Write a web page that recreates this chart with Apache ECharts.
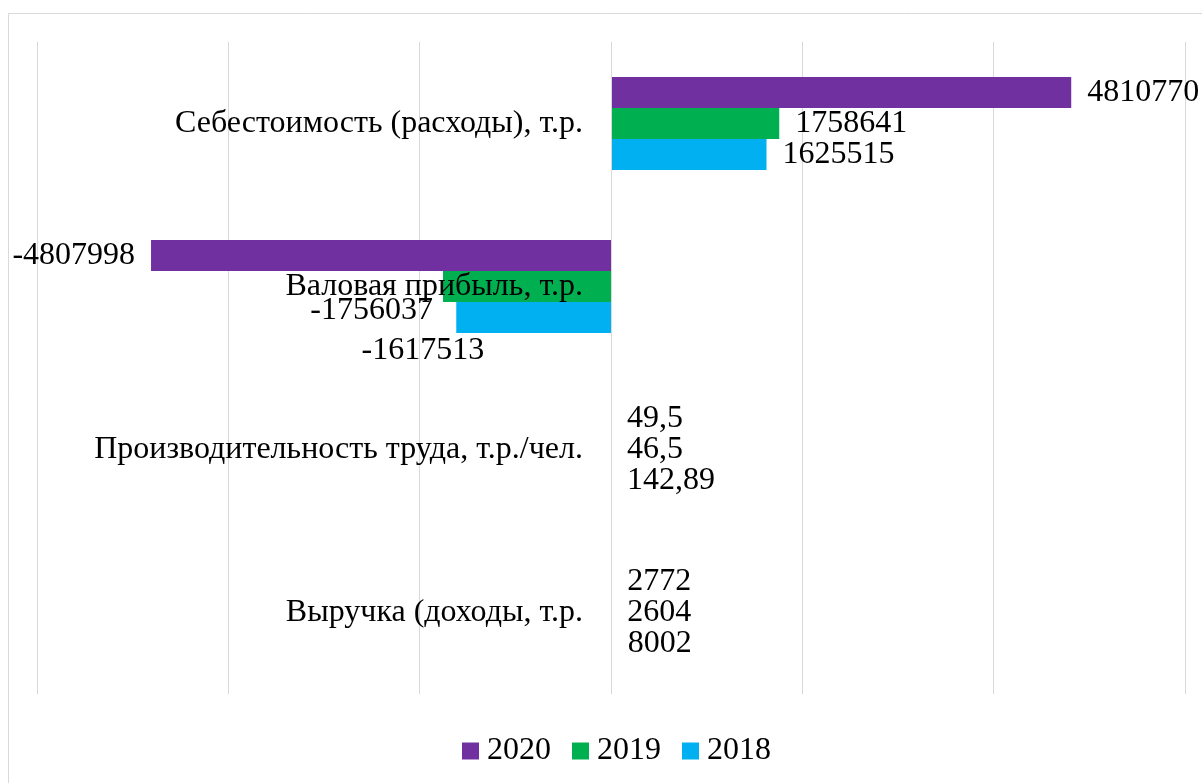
<!DOCTYPE html>
<html>
<head>
<meta charset="utf-8">
<script src="https://cdn.jsdelivr.net/npm/echarts@6/dist/echarts.min.js"></script>
<style>
	html, body { margin: 0; padding: 0; background: #fff; }
	#chart { width: 1202px; height: 783px; }
</style>
</head>
<body>
<div id="chart"></div>
<script>
// categories, bottom to top
var categories = ['Выручка (доходы, т.р.', 'Производительность труда, т.р./чел.', 'Валовая прибыль, т.р.', 'Себестоимость (расходы), т.р.'];
var years = ['2020', '2019', '2018'];
var values2020 = [2772, 49.5, -4807998, 4810770];
var values2019 = [2604, 46.5, -1756037, 1758641];
var values2018 = [8002, 142.89, -1617513, 1625515];
var colors = ['#7030A0', '#00B050', '#00B0F0'];

var FONT = "'Liberation Serif', 'Times New Roman', serif";
var FONT_SIZE = 32;

// labels that were moved by hand in the original (series index -> data index -> offset)
var labelOffsets = {
	1: {2: [6, 24]},
	2: {2: [44, 33]}
};

function fmt(p){
	return String(p.value).replace('.', ',');
}

function buildData(vals, si){
	return vals.map(function(v, i){
		var lbl = {position: v < 0 ? 'left' : 'right'};
		if(labelOffsets[si] && labelOffsets[si][i]){
			lbl.offset = labelOffsets[si][i];
		}
		return {value: v, label: lbl};
	});
}

var chart = echarts.init(document.getElementById('chart'));
var allValues = [values2020, values2019, values2018];
var series = [];
for(var s = 0; s < years.length; s++){
	series.push({
		name: years[s],
		type: 'bar',
		barWidth: 31,
		barGap: '0%',
		itemStyle: {color: colors[s]},
		label: {
			show: true,
			distance: 16,
			fontSize: FONT_SIZE,
			fontFamily: FONT,
			color: '#000',
			formatter: fmt
		},
		data: buildData(allValues[s], s)
	});
}

var option = {
	animation: false,
	graphic: [{
		type: 'rect',
		silent: true,
		shape: {x: 8.5, y: 13.5, width: 1300, height: 900},
		style: {fill: 'none', stroke: '#d9d9d9', lineWidth: 1}
	}],
	grid: {left: 37, right: 17, top: 42, bottom: 89, containLabel: false, outerBoundsMode: 'none'},
	legend: {
		data: years,
		left: 457,
		bottom: 11,
		icon: 'rect',
		itemWidth: 17,
		itemHeight: 17,
		itemGap: 21,
		textStyle: {fontSize: FONT_SIZE, fontFamily: FONT, color: '#000', padding: [0, 0, 0, 3]}
	},
	xAxis: {
		type: 'value',
		min: -6000000,
		max: 6000000,
		interval: 2000000,
		axisLabel: {show: false},
		axisLine: {show: false},
		axisTick: {show: false},
		splitLine: {lineStyle: {color: '#d9d9d9', width: 1}}
	},
	yAxis: {
		type: 'category',
		data: categories,
		z: 5,
		// put the category axis on the zero line (grid left 37 + 3 intervals of 191.33)
		offset: -574,
		axisLine: {show: true, onZero: false, lineStyle: {color: '#d9d9d9'}},
		axisTick: {show: false},
		axisLabel: {fontSize: FONT_SIZE, fontFamily: FONT, color: '#000', margin: 28, padding: [4, 0, 0, 0]}
	},
	series: series
};
chart.setOption(option);
</script>
</body>
</html>
